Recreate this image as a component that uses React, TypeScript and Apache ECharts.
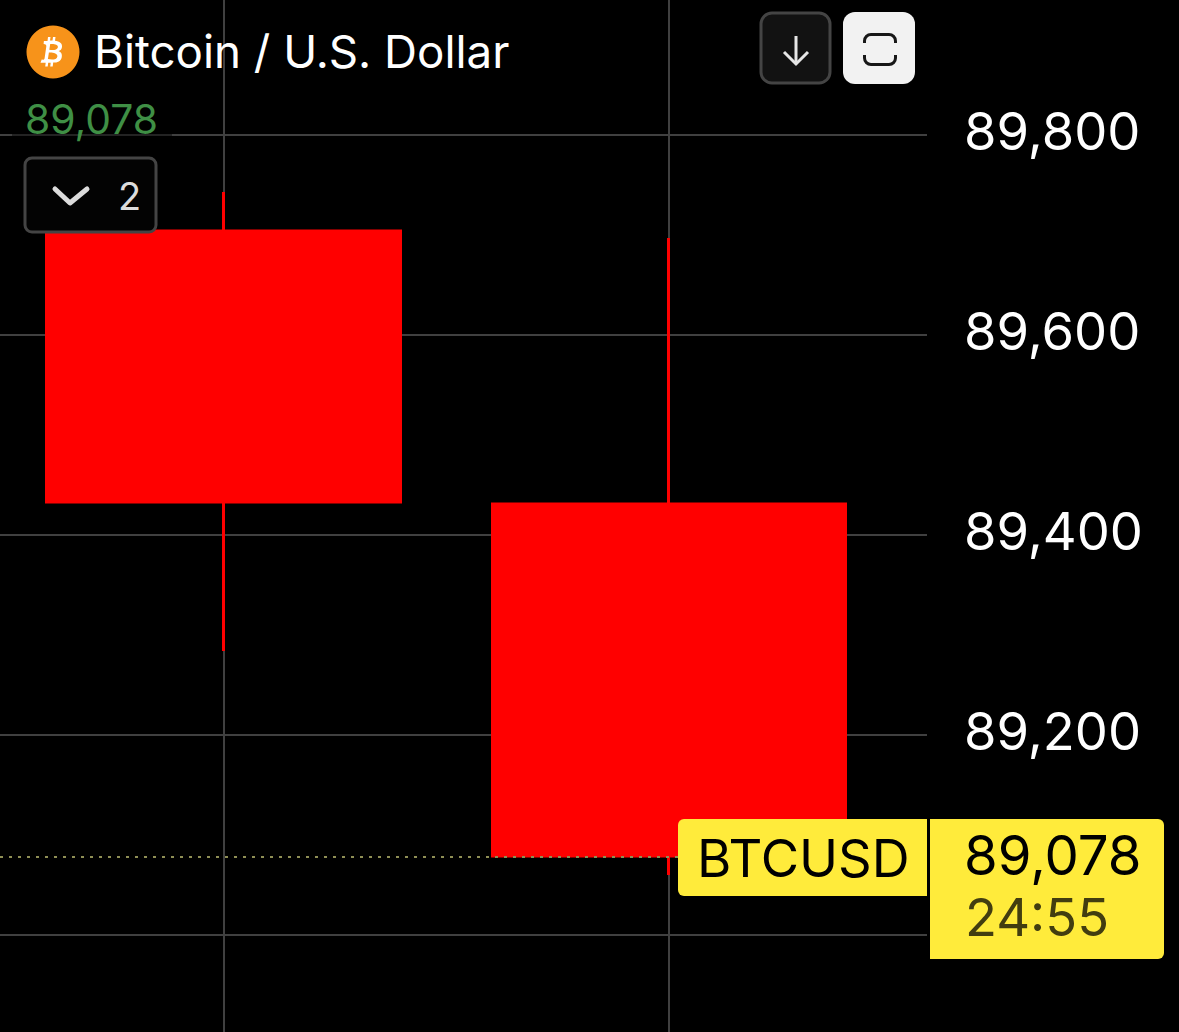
import React, { useEffect, useRef } from "react";
import * as echarts from "echarts";

const candles = [
  [0, 89704, 89433, 89284, 89743],
  [1, 89431, 89079, 89060, 89697],
];
const lastPrice = 89078;
const hiddenTicks = [89000];
const title = "Bitcoin / U.S. Dollar";
const symbolName = "BTCUSD";
const countdown = "24:55";
const collapsedCount = "2";

const FONT = "Inter";
const RED = "#ff0000";
const YELLOW = "#ffeb3b";
const GRID = "#404040";

echarts.graphic.registerShape(
  "frameIcon",
  echarts.graphic.extendPath(
    "M1.5 10 V8 A6.5 6.5 0 0 1 8 1.5 H26 A6.5 6.5 0 0 1 32.5 8 V10 M32.5 22 V25 A6.5 6.5 0 0 1 26 31.5 H8 A6.5 6.5 0 0 1 1.5 25 V22",
    {}
  )
);
echarts.graphic.registerShape(
  "btcGlyph",
  echarts.graphic.extendPath(
    "M6 0 L8.5 0 L8 3.5 L10.5 3.5 L11 0 L13.5 0 L13 3.7 C17.5 4.3 20.5 6.3 20 10 C19.7 12.3 18.5 13.6 16.6 14.1 C19.2 15.2 20.3 17.2 19.8 19.9 C19 24.3 15.5 25.6 11.2 25.6 L10.7 29.5 L8.2 29.5 L8.7 25.8 L6.2 25.8 L5.7 29.5 L3.2 29.5 L3.7 25.7 L-1.5 25.7 L-0.3 22.6 C1.4 22.8 2.3 22.7 2.6 21.2 L4.3 9.5 C4.5 8.2 3.8 7.2 1.6 7 L1.9 3.9 L5.5 3.9 Z M8.2 7.1 L7.3 12.8 C9.9 13.3 15.4 13.6 15.9 10.3 C16.4 7.1 11 6.6 8.2 7.1 Z M6.9 15.6 L5.9 22.1 C9 22.7 14.8 23.3 15.4 19.5 C15.9 16.1 10 15.2 6.9 15.6 Z",
    {}
  )
);

export default function App() {
  const ref = useRef<HTMLDivElement>(null);
  useEffect(() => {
    document.body.style.margin = "0";
    document.body.style.background = "#000";
    const chart = echarts.init(ref.current!, null, { renderer: "svg" });
    chart.setOption({
      animation: false,
      backgroundColor: "#000000",
      grid: { left: -222, width: 1149, top: -65, height: 1200, containLabel: false, outerBoundsMode: "none" },
      xAxis: {
        type: "value",
        min: -1,
        max: 1.5791,
        interval: 1,
        axisLine: { show: false },
        axisTick: { show: false },
        axisLabel: { show: false },
        splitLine: { show: true, showMinLine: false, showMaxLine: false, lineStyle: { color: GRID, width: 2 } },
      },
      yAxis: {
        type: "value",
        position: "right",
        min: 88800,
        max: 90000,
        interval: 200,
        scale: true,
        axisLine: { show: false },
        axisTick: { show: false },
        axisLabel: {
          show: true,
          margin: 37,
          showMinLabel: false,
          showMaxLabel: false,
          color: "#ffffff",
          fontFamily: FONT,
          fontSize: 52.5,
          verticalAlign: "bottom",
          lineHeight: 8,
          formatter: (v: number) => (hiddenTicks.includes(v) ? "" : v.toLocaleString("en-US")),
        },
        splitLine: { show: true, lineStyle: { color: GRID, width: 2 } },
      },
      series: [
        {
          type: "candlestick",
          barWidth: 354,
          encode: { x: 0, y: [1, 2, 3, 4] },
          data: candles,
          clip: false,
          itemStyle: {
            color: RED,
            color0: RED,
            borderColor: RED,
            borderColor0: RED,
            borderWidth: 3,
          },
          markLine: {
            silent: true,
            symbol: "none",
            label: { show: false },
            lineStyle: { color: "#8f8f55", type: [3, 6], width: 2 },
            data: [[{ x: 0, yAxis: lastPrice }, { x: 927, yAxis: lastPrice }]],
          },
        },
      ],
      graphic: [
        // legend
        { type: "circle", z: 100, shape: { cx: 53, cy: 52, r: 26.5 }, style: { fill: "#f7931a" } },
        { type: "btcGlyph", z: 101, x: 42, y: 37, scaleX: 1, scaleY: 1, style: { fill: "#ffffff" } },
        { type: "text", z: 100, x: 94, y: 51, style: { text: title, fill: "#ffffff", font: `400 45.7px ${FONT}`, textVerticalAlign: "middle" } },
        { type: "rect", z: 99, shape: { x: 12, y: 100, width: 160, height: 37 }, style: { fill: "rgba(0,0,0,0.45)" } },
        { type: "text", z: 100, x: 25, y: 119, style: { text: "89,078", fill: "#3f8f45", font: `400 40.8px ${FONT}`, textVerticalAlign: "middle" } },
        { type: "rect", z: 100, shape: { x: 25, y: 158, width: 131, height: 74, r: 7 }, style: { fill: "#030303", stroke: "#444444", lineWidth: 3 } },
        { type: "polyline", z: 101, shape: { points: [[55, 189], [70, 203], [87, 189]] }, style: { stroke: "#dcdcdc", lineWidth: 5, fill: "none", lineCap: "round", lineJoin: "round" } },
        { type: "text", z: 101, x: 118, y: 196, style: { text: collapsedCount, fill: "#dcdcdc", font: `400 38px ${FONT}`, textVerticalAlign: "middle" } },
        // buttons
        { type: "rect", z: 100, shape: { x: 761, y: 13, width: 69, height: 70, r: 11 }, style: { fill: "#121212", stroke: "#444444", lineWidth: 3 } },
        { type: "polyline", z: 101, shape: { points: [[796, 36], [796, 64]] }, style: { stroke: "#e6e6e6", lineWidth: 3, fill: "none" } },
        { type: "polyline", z: 101, shape: { points: [[784, 52], [796, 64], [808, 52]] }, style: { stroke: "#e6e6e6", lineWidth: 3, fill: "none" } },
        { type: "rect", z: 100, shape: { x: 843, y: 12, width: 72, height: 72, r: 12 }, style: { fill: "#f2f2f2" } },
        { type: "frameIcon", z: 101, x: 863, y: 33, style: { stroke: "#181818", lineWidth: 3, fill: "none" } },
        // price tags
        { type: "rect", z: 100, shape: { x: 678, y: 819, width: 249, height: 77, r: [6, 0, 0, 6] }, style: { fill: YELLOW } },
        { type: "text", z: 101, x: 697, y: 858, style: { text: symbolName, fill: "#000000", font: `400 52.5px ${FONT}`, textVerticalAlign: "middle" } },
        { type: "rect", z: 100, shape: { x: 930, y: 819, width: 234, height: 140, r: [0, 6, 6, 0] }, style: { fill: YELLOW } },
        { type: "text", z: 101, x: 964, y: 855, style: { text: "89,078", fill: "#000000", font: `400 54.5px ${FONT}`, textVerticalAlign: "middle" } },
        { type: "text", z: 101, x: 965, y: 917, style: { text: countdown, fill: "#423d10", font: `400 52.5px ${FONT}`, textVerticalAlign: "middle" } },
      ],
    });
    return () => chart.dispose();
  }, []);
  return <div ref={ref} style={{ width: 1179, height: 1032 }} />;
}
